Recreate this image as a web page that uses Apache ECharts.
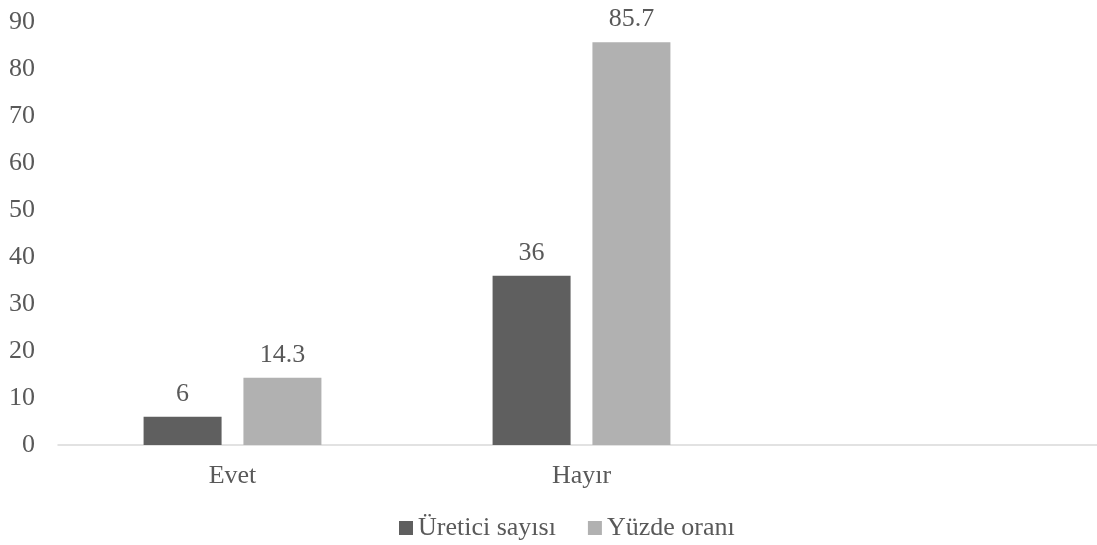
<!DOCTYPE html>
<html>
<head>
<meta charset="utf-8">
<script src="https://cdn.jsdelivr.net/npm/echarts@6/dist/echarts.min.js"></script>
<style>
  html, body { margin: 0; padding: 0; background: #ffffff; overflow: hidden; }
  /* the plot area runs slightly past the right edge of the window */
  #chart { width: 1120px; height: 545px; }
</style>
</head>
<body>
<div id="chart"></div>
<script>
// Categories (the third slot is an empty category on the axis)
const categories = ['Evet', 'Hayır', ''];
const seriesNames = ['Üretici sayısı', 'Yüzde oranı'];
const ureticiSayisi = [6, 36, null];
const yuzdeOrani = [14.3, 85.7, null];
const yTicks = { min: 0, max: 90, interval: 10 };

const textColor = '#595959';
const fontFamily = '"Liberation Serif", "Times New Roman", serif';
const fontSize = 26;

const chart = echarts.init(document.getElementById('chart'));

const labelStyle = {
  show: true,
  position: 'top',
  distance: 10,
  color: textColor,
  fontFamily: fontFamily,
  fontSize: fontSize
};

chart.setOption({
  animation: false,
  backgroundColor: '#ffffff',
  textStyle: { fontFamily: fontFamily, color: textColor },
  grid: { left: 58, right: 15, top: 22, bottom: 100 },
  legend: {
    top: 515,
    left: 399,
    padding: 0,
    itemWidth: 14,
    itemHeight: 14,
    itemGap: 32,
    icon: 'rect',
    textStyle: { color: textColor, fontFamily: fontFamily, fontSize: fontSize },
    data: seriesNames
  },
  xAxis: {
    type: 'category',
    data: categories,
    axisLine: { show: true, lineStyle: { color: '#d9d9d9', width: 1.5 } },
    axisTick: { show: false },
    axisLabel: { color: textColor, fontFamily: fontFamily, fontSize: fontSize, margin: 18 },
    splitLine: { show: false }
  },
  yAxis: {
    type: 'value',
    min: yTicks.min,
    max: yTicks.max,
    interval: yTicks.interval,
    axisLine: { show: false },
    axisTick: { show: false },
    splitLine: { show: false },
    axisLabel: { color: textColor, fontFamily: fontFamily, fontSize: fontSize, margin: 23 }
  },
  series: [
    {
      name: seriesNames[0],
      type: 'bar',
      data: ureticiSayisi,
      barWidth: 78,
      barGap: '28%',
      itemStyle: { color: '#5f5f5f' },
      label: labelStyle
    },
    {
      name: seriesNames[1],
      type: 'bar',
      data: yuzdeOrani,
      barWidth: 78,
      barGap: '28%',
      itemStyle: { color: '#b1b1b1' },
      label: labelStyle
    }
  ]
});
</script>
</body>
</html>
